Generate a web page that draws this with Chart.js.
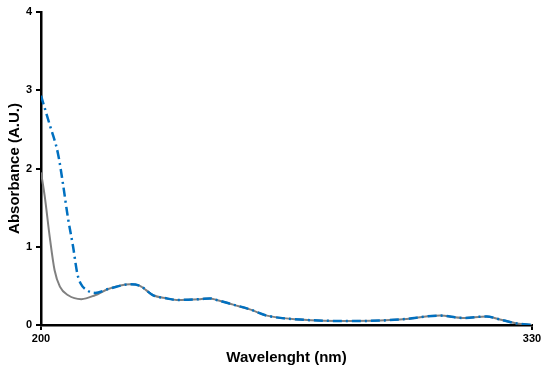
<!DOCTYPE html>
<html>
<head>
<meta charset="utf-8">
<script src="https://cdn.jsdelivr.net/npm/chart.js@4"></script>
<style>
  html, body { margin: 0; padding: 0; background: #fff; }
  #wrap { width: 550px; height: 375px; position: relative; }
</style>
</head>
<body>
<div id="wrap"><canvas id="uvChart"></canvas></div>
<script>
// spectra
const wlGray = [200, 201.0, 202.3, 203.6, 205.0, 207.2, 210.7, 214.3, 217.8, 223.6, 226.2, 229.7, 233.3, 235.9, 242.1, 244.7, 246.5, 250.9, 255.3, 259.8, 268.6, 281.8, 295, 305.6, 311.7, 318, 321.5, 326, 330];
const absGray = [1.95, 1.64, 1.13, 0.70, 0.49, 0.38, 0.33, 0.38, 0.46, 0.52, 0.50, 0.38, 0.34, 0.32, 0.33, 0.34, 0.32, 0.26, 0.20, 0.12, 0.07, 0.05, 0.07, 0.12, 0.09, 0.11, 0.07, 0.02, 0.0];

const wlBlue = [200, 202.3, 204.5, 205.8, 207.1, 208.5, 209.6, 210.5, 212.0, 214.3, 217.8, 223.6, 226.2, 229.7, 233.3, 235.9, 242.1, 244.7, 246.5, 250.9, 255.3, 259.8, 268.6, 281.8, 295, 305.6, 311.7, 318, 321.5, 326, 330];
const absBlue = [2.93, 2.56, 2.19, 1.81, 1.38, 1.00, 0.66, 0.53, 0.45, 0.41, 0.46, 0.52, 0.50, 0.38, 0.34, 0.32, 0.33, 0.34, 0.32, 0.26, 0.20, 0.12, 0.07, 0.05, 0.07, 0.12, 0.09, 0.11, 0.07, 0.02, 0.0];

const xTicks = [200, 330];
const yTicks = [0, 1, 2, 3, 4];

const toPoints = (xs, ys) => xs.map((x, i) => ({x: x, y: ys[i]}));

const font = 'Arial, "Liberation Sans", sans-serif';

new Chart(document.getElementById('uvChart'), {
  type: 'line',
  data: {
    datasets: [
      {
        label: 'blue',
        data: toPoints(wlBlue, absBlue),
        borderColor: '#0070C0',
        borderWidth: 2.5,
        borderDash: [9, 4, 2, 4],
        pointRadius: 0,
        cubicInterpolationMode: 'monotone',
        fill: false
      },
      {
        label: 'gray',
        data: toPoints(wlGray, absGray),
        borderColor: '#808080',
        borderWidth: 2,
        pointRadius: 0,
        cubicInterpolationMode: 'monotone',
        fill: false
      }
    ]
  },
  options: {
    responsive: true,
    maintainAspectRatio: false,
    animation: false,
    layout: { padding: { top: 12, right: 18, left: 0, bottom: 0 } },
    plugins: { legend: { display: false }, tooltip: { enabled: false } },
    scales: {
      x: {
        type: 'linear',
        min: 200, max: 330,
        afterBuildTicks: s => { s.ticks = xTicks.map(v => ({value: v})); },
        afterFit: s => { s.height = 50; },
        grid: { drawOnChartArea: false, drawTicks: true, tickLength: 5, color: '#000', lineWidth: 2 },
        border: { color: '#000', width: 2.5 },
        ticks: { color: '#000', font: { family: font, size: 11, weight: 'bold' }, padding: 2, maxRotation: 0 },
        title: { display: true, text: 'Wavelenght (nm)', color: '#000', font: { family: font, size: 15, weight: 'bold' }, padding: { top: 0, bottom: 8 } }
      },
      y: {
        min: 0, max: 4,
        afterBuildTicks: s => { s.ticks = yTicks.map(v => ({value: v})); },
        afterFit: s => { s.width = 41; },
        grid: { drawOnChartArea: false, drawTicks: true, tickLength: 5, color: '#000', lineWidth: 2 },
        border: { color: '#000', width: 2.5 },
        ticks: { color: '#000', font: { family: font, size: 11, weight: 'bold' }, padding: 4 },
        title: { display: true, text: 'Absorbance (A.U.)', color: '#000', font: { family: font, size: 15, weight: 'bold' }, padding: { top: 6, bottom: 0 } }
      }
    }
  }
});
</script>
</body>
</html>
